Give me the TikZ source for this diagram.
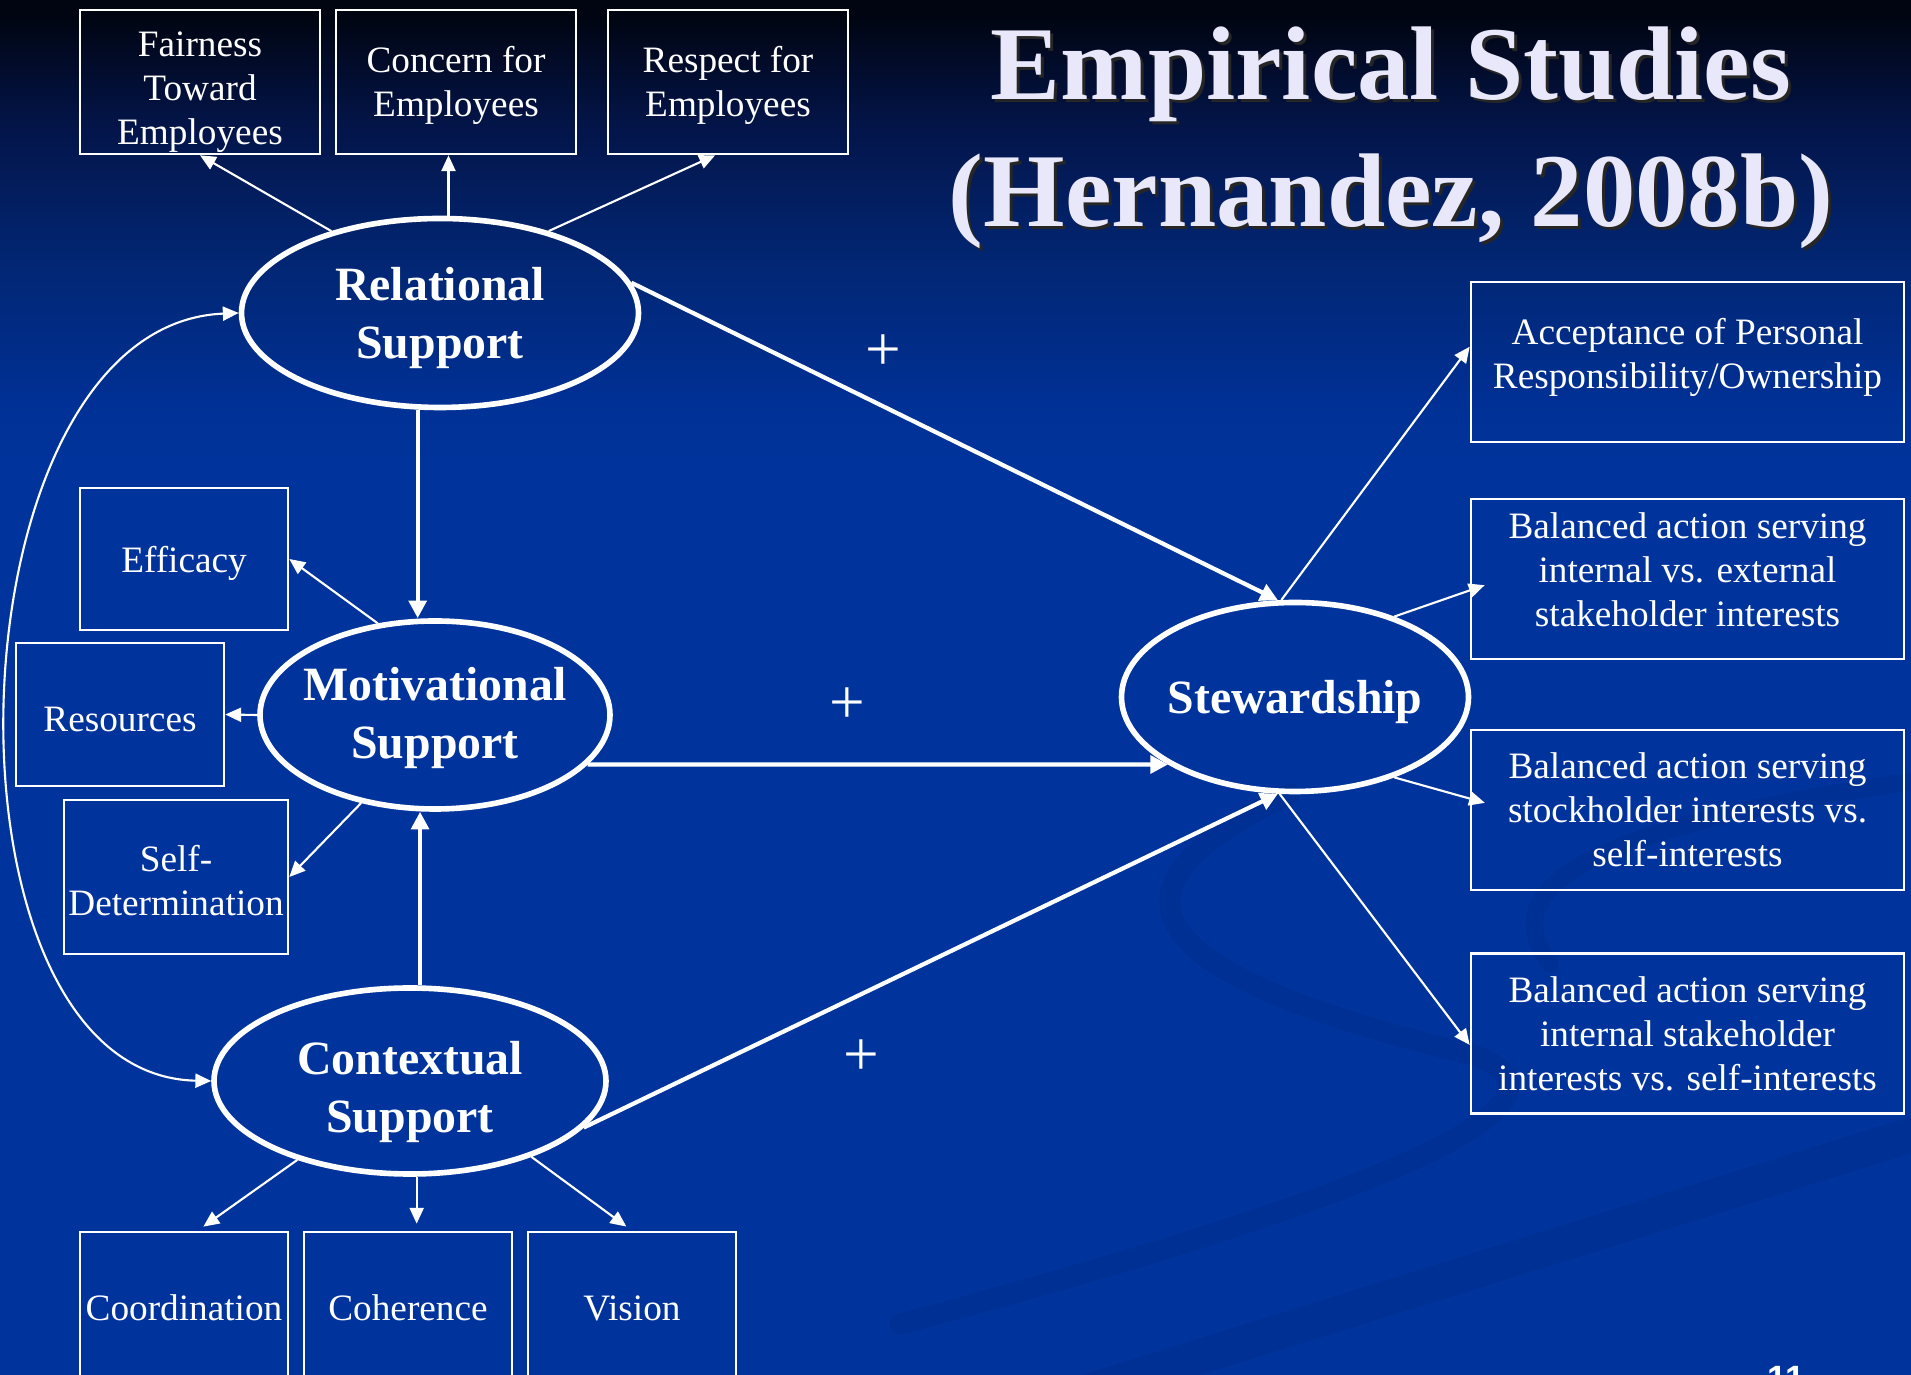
\documentclass[tikz,border=0pt]{standalone}
\usepackage{fontspec}
\setmainfont{Liberation Serif}
\setsansfont{Liberation Sans}
\usetikzlibrary{shapes.geometric,arrows.meta}

\definecolor{slideblue}{RGB}{0,52,156}
\definecolor{bgA}{RGB}{0,48,148}
\definecolor{bgB}{RGB}{2,38,115}
\definecolor{bgC}{RGB}{3,21,74}
\definecolor{bgD}{RGB}{1,5,18}
\definecolor{swoosh}{RGB}{0,42,136}
\definecolor{titlefg}{RGB}{232,232,250}

\pgfdeclareverticalshading{slidebg}{100bp}{color(0bp)=(slideblue); color(58bp)=(slideblue);
  color(60.5bp)=(bgA); color(65.5bp)=(bgB); color(70.3bp)=(bgC); color(74.4bp)=(bgD); color(100bp)=(bgD)}

\begin{document}
\begin{tikzpicture}[
  box/.style={draw=white, line width=0.75pt, text=white, align=center, inner sep=1pt,
    font=\fontsize{10.6}{12.5}\selectfont},
  factor/.style={ellipse, draw=white, line width=1.6pt, text=white, align=center,
    inner xsep=-4mm, inner ysep=0pt, font=\bfseries\fontsize{13.6}{16.5}\selectfont},
  mainarrow/.style={draw=white, line width=1.2pt, -{Triangle[length=5pt,width=5pt]}},
  subarrow/.style={draw=white, line width=0.6pt, -{Triangle[length=4.5pt,width=4pt]}},
  sign/.style={text=white, font=\fontsize{18}{20}\selectfont},
  heading/.style={font=\bfseries\fontsize{29.8}{36}\selectfont, anchor=base, inner sep=0pt},
]
\useasboundingbox (0,0) rectangle (19.11,13.74);
\shade[shading=slidebg] (0,0) rectangle (19.11,13.74);

% background swirl
\begin{scope}[draw=swoosh, line cap=round, opacity=.4]
\draw[line width=6pt] (12.9,5.8) .. controls (11.2,5.0) and (10.9,4.1) .. (14.7,3.2)
  .. controls (15.6,2.9) and (15.4,2.2) .. (9.0,0.5);
\draw[line width=10pt] (19.3,2.45) -- (10.8,-0.2);
\draw[line width=5pt] (19.3,5.95) .. controls (16.0,5.5) and (14.9,4.9) .. (15.5,4.1);
\end{scope}

\node[heading, text=black!85] (title1s) at (13.94,12.71) {Empirical Studies};
\node[heading, text=titlefg] (title1) at (13.91,12.74) {Empirical Studies};
\node[heading, text=black!85] (title2s) at (13.94,11.44) {(Hernandez, 2008b)};
\node[heading, text=titlefg] (title2) at (13.91,11.47) {(Hernandez, 2008b)};

\node[factor, minimum width=3.97cm, minimum height=1.89cm, text depth=0pt] (rel) at (4.40,10.61) {Relational\\Support};
\node[factor, minimum width=3.50cm, minimum height=1.88cm, text depth=1.4pt] (mot) at (4.35,6.59) {Motivational\\Support};
\node[factor, minimum width=3.92cm, minimum height=1.86cm, text depth=0pt, text height=29.2pt] (ctx) at (4.10,2.93) {Contextual\\Support};
\node[factor, minimum width=3.47cm, minimum height=1.89cm, text depth=0pt] (stew) at (12.95,6.77) {Stewardship};

\node[box, minimum width=2.40cm, minimum height=1.44cm, text depth=0pt, text height=35.7pt] (fair) at (2.00,12.92) {Fairness\\Toward\\Employees};
\node[box, minimum width=2.40cm, minimum height=1.44cm, text depth=0.3pt, right of=fair, node distance=2.56cm] (conc) {Concern for\\Employees};
\node[box, minimum width=2.40cm, minimum height=1.44cm, text depth=0.3pt, right of=conc, node distance=2.72cm] (resp) {Respect for\\Employees};

\node[box, minimum width=2.08cm, minimum height=1.42cm, text depth=0pt] (eff) at (1.84,8.15) {Efficacy};
\node[box, minimum width=2.08cm, minimum height=1.43cm, text depth=0pt, text height=9.8pt] (res) at (1.20,6.595) {Resources};
\node[box, minimum width=2.24cm, minimum height=1.54cm, text depth=0pt, text height=21.8pt] (sd) at (1.76,4.97) {Self-\\Determination};

\node[box, minimum width=2.08cm, minimum height=1.52cm] (coord) at (1.84,0.66) {Coordination};
\node[box, minimum width=2.08cm, minimum height=1.52cm, right of=coord, node distance=2.24cm] (coh) {Coherence};
\node[box, minimum width=2.08cm, minimum height=1.52cm, right of=coh, node distance=2.24cm] (vis) {Vision};

\node[box, minimum width=4.33cm, minimum height=1.60cm, text depth=5.1pt] (acc) at (16.875,10.12) {Acceptance of Personal\\Responsibility/Ownership};
\node[box, minimum width=4.33cm, minimum height=1.60cm, text depth=5.6pt, below of=acc, node distance=2.17cm] (bal1) {Balanced action serving\\internal vs. external\\stakeholder interests};
\node[box, minimum width=4.33cm, minimum height=1.60cm, below of=bal1, node distance=2.31cm] (bal2) {Balanced action serving\\stockholder interests vs.\\self-interests};
\node[box, minimum width=4.33cm, minimum height=1.60cm, below of=bal2, node distance=2.235cm] (bal3) {Balanced action serving\\internal stakeholder\\interests vs. self-interests};

\draw[subarrow] (rel.143) -- (fair.south);
\draw[subarrow] (rel.85) -- (rel.85 |- conc.south);
\draw[subarrow] (rel.37) -- (resp.-100);
\draw[mainarrow] (rel.-103) -- (rel.-103 |- mot.north);
\draw[mainarrow] (ctx.84) -- (ctx.84 |- mot.south);
\draw[mainarrow] (rel.9) -- (stew.100) node[sign, pos=.39, yshift=.54cm] (plusrel) {+};
\draw[mainarrow] (mot.-18) -- (stew.-152) node[sign, pos=.447, yshift=.59cm] (plusmot) {+};
\draw[mainarrow] (ctx.-15) -- (stew.-100) node[sign, pos=.40, yshift=-.64cm] (plusctx) {+};

\draw[subarrow] (mot.122) -- (eff.east);
\draw[subarrow] (mot.west) -- (res.east);
\draw[subarrow] (mot.-130) -- (sd.east);
\draw[subarrow, shorten >=2pt] (ctx.-145) -- (coord.80);
\draw[subarrow, shorten >=2pt] (ctx.-86) -- (ctx.-86 |- coh.north);
\draw[subarrow, shorten >=2pt] (ctx.-32) -- (vis.north);
\draw[subarrow, {Triangle[length=4.5pt,width=4pt]}-{Triangle[length=4.5pt,width=4pt]}]
  (rel.west) .. controls (-0.55,10.49) and (-0.75,2.99) .. (ctx.west);

\draw[subarrow] (stew.98) -- (acc.176);
\draw[subarrow, shorten >=-4.5pt] (stew.39) -- (bal1.-177);
\draw[subarrow, shorten >=-4.5pt] (stew.-39) -- (bal2.177);
\draw[subarrow] (stew.-99) -- (bal3.183);

\node[font=\sffamily\bfseries\fontsize{10}{12}\selectfont, text=white, anchor=north, inner sep=0pt] (slidenum) at (17.86,0.08) {11};
\end{tikzpicture}
\end{document}
